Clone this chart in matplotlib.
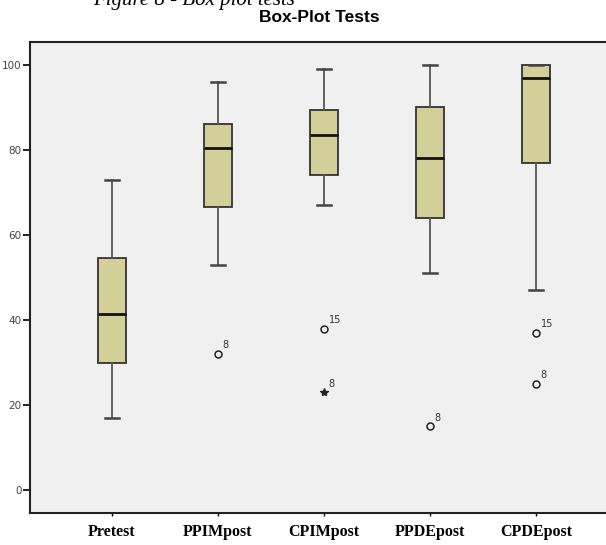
import numpy as np
import matplotlib
matplotlib.use("Agg")
from matplotlib import pyplot as plt

# Box-plot summary
groups = ["Pretest", "PPIMpost", "CPIMpost", "PPDEpost", "CPDEpost"]
whisker_low = [17, 53, 67, 51, 47]
q1 = [30, 66.5, 74, 64, 77]
median = [41.5, 80.5, 83.5, 78, 97]
q3 = [54.5, 86, 89.5, 90, 100]
whisker_high = [73, 96, 99, 100, 100]

# outliers (circles) and extremes (stars) with their case labels
outlier_vals = [[], [32], [38], [15], [37, 25]]
outlier_ids = [[], ["8"], ["15"], ["8"], ["15", "8"]]
extreme_vals = [[], [], [23], [], []]
extreme_ids = [[], [], ["8"], [], []]

box_fill = "#d3cf98"
bg = "#f0f0f0"

fig = plt.figure(figsize=(6.06, 5.45), dpi=100)
ax = fig.add_axes([0.0495, 0.0587, 0.955, 0.865])
ax.set_facecolor(bg)

stats = []
for i, g in enumerate(groups):
    stats.append(dict(label=g, whislo=whisker_low[i], q1=q1[i], med=median[i],
                      q3=q3[i], whishi=whisker_high[i], fliers=[]))

pos = np.arange(1, len(groups) + 1)
ax.bxp(stats, positions=pos, widths=0.26, patch_artist=True, showfliers=False,
       boxprops=dict(facecolor=box_fill, edgecolor="#333333", linewidth=1.3),
       medianprops=dict(color="#111111", linewidth=2),
       whiskerprops=dict(color="#555555", linewidth=1.3),
       capprops=dict(color="#444444", linewidth=1.8), capwidths=0.13)

for i in range(len(groups)):
    for v, lab in zip(outlier_vals[i], outlier_ids[i]):
        ax.plot(pos[i], v, marker="o", ms=5, mfc="none", mec="#222222", mew=1.1)
        ax.annotate(lab, (pos[i], v), xytext=(3.5, 4), textcoords="offset points",
                    fontsize=7, color="#333333")
    for v, lab in zip(extreme_vals[i], extreme_ids[i]):
        ax.plot(pos[i], v, marker="*", ms=6, color="#222222")
        ax.annotate(lab, (pos[i], v), xytext=(3.5, 4), textcoords="offset points",
                    fontsize=7, color="#333333")

ax.set_xlim(0.227, 5.687)
ax.set_ylim(-5.4, 105.5)
ax.set_yticks([0, 20, 40, 60, 80, 100])
ax.tick_params(axis="y", length=5, width=1.2, labelsize=7.5, labelcolor="#444444", pad=1)
ax.tick_params(axis="x", length=2, width=1, pad=6)
ax.set_xticks(pos)
ax.set_xticklabels(groups, fontfamily="Liberation Serif", fontweight="bold", fontsize=11.5)
for s in ax.spines.values():
    s.set_linewidth(1.5)
    s.set_color("#222222")

ax.set_title("Box-Plot Tests", fontweight="bold", fontsize=12.5, pad=14,
             fontfamily="Liberation Sans")
fig.text(0.153, 0.991, "Figure 8 - Box plot tests", fontfamily="Liberation Serif",
         style="italic", fontsize=15, va="baseline")

fig.savefig("out.png", dpi=100)
